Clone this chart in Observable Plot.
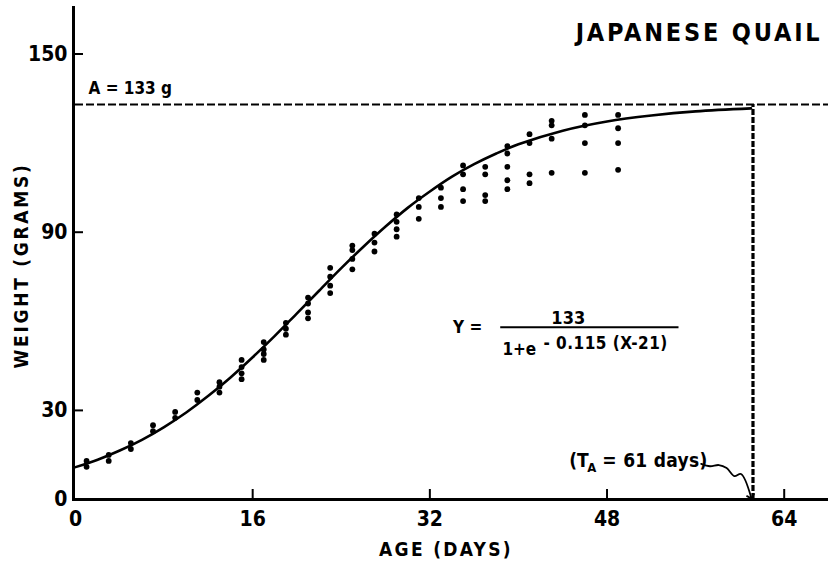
<!DOCTYPE html>
<html><head><meta charset="utf-8">
<script src="https://cdn.jsdelivr.net/npm/d3@7"></script>
<script src="https://cdn.jsdelivr.net/npm/@observablehq/plot@0.6"></script>
<style>
body{margin:0;background:#fff}
#chart svg{display:block}
</style></head><body><div id="chart"></div>
<script>
// Observed body weights (g) by age (days)
const ages = [1, 3, 5, 7, 9, 11, 13, 15, 17, 19, 21, 23, 25, 27, 29, 31, 33, 35, 37, 39, 41, 43, 46, 49];
const weights = [
  [13, 11], [15, 13], [19, 17], [25, 23], [29.5, 27.5], [36, 33.5],
  [39.5, 38, 36], [47, 44.6, 42.5, 40.5], [53, 50.5, 49, 47], [59.5, 57.5, 55.5],
  [68, 66, 63, 61], [78, 75, 72, 69.5], [85.5, 84, 81, 77.5], [89.5, 86.5, 83.5],
  [96, 93.5, 91, 88.5], [101.5, 98.5, 94.5], [105, 101.5, 98.5],
  [112.5, 109.5, 104.5, 100.5], [112, 109.5, 102.5, 100.5],
  [119, 116.5, 112, 107.5, 104.5], [123, 120, 109.5, 106.5],
  [127.5, 126, 121.5, 110], [129.5, 126, 120, 110], [129.5, 125, 120, 111]
];
// Fitted growth curve
const curveAges = [0, 2, 4, 6, 8, 10, 12, 14, 16, 18, 20, 22, 24, 26, 28, 30, 32, 34, 36, 38, 40, 44, 48, 52, 56, 61];
const curveWeights = [10.9, 13.4, 16.5, 20.1, 24.4, 29.3, 34.9, 41.1, 47.9, 55.1, 62.7, 70.3, 77.9, 85.1, 91.9, 98.2, 103.7, 108.7, 112.9, 116.5, 119.6, 124.2, 127.3, 129.3, 130.7, 131.7];
const asymptote = 133;
const timeToAsymptote = 61;
const xTicks = [0, 16, 32, 48, 64];
const yTicks = [0, 30, 90, 150];
const yTickMarks = [30, 90, 150];
const xTickMarks = [16, 32, 48, 64];
// squiggly pointer for the T_A annotation (data coordinates)
const pointerAges = [56.5, 57.3, 58.1, 58.8, 59.5, 60.1, 61.0];
const pointerWeights = [12.0, 11.2, 11.6, 10.6, 7.9, 8.6, 0.9];

const dots = ages.flatMap((a, i) => weights[i].map(w => ({age: a, weight: w})));
const curve = curveAges.map((a, i) => ({age: a, weight: curveWeights[i]}));
const pointer = pointerAges.map((a, i) => ({age: a, weight: pointerWeights[i]}));

const font = "'DejaVu Sans Condensed','DejaVu Sans',sans-serif";

const chart = Plot.plot({
  width: 828,
  height: 562,
  marginLeft: 75,
  marginRight: 0,
  marginTop: 6,
  marginBottom: 63,
  style: {fontFamily: font, background: "white", color: "black"},
  x: {domain: [0, 68], axis: null},
  y: {domain: [0, 166], axis: null},
  marks: [
    // axes lines
    Plot.ruleX([0], {stroke: "black", strokeWidth: 3, dx: -2, insetBottom: -1.5}),
    Plot.ruleY([0], {stroke: "black", strokeWidth: 3, insetLeft: -3}),
    // inward ticks
    Plot.ruleY(yTickMarks, {stroke: "black", strokeWidth: 2, insetRight: 745}),
    Plot.ruleX(xTickMarks, {stroke: "black", strokeWidth: 2, insetTop: 483}),
    // tick labels
    Plot.text(xTicks, {x: d => d, frameAnchor: "bottom", dy: 19.5, lineAnchor: "middle", fontSize: 21, fontWeight: "bold"}),
    Plot.text(yTicks, {y: d => d, frameAnchor: "left", dx: -8, textAnchor: "end", lineAnchor: "middle", fontSize: 21, fontWeight: "bold"}),
    // asymptote and time-to-asymptote
    Plot.ruleY([asymptote], {stroke: "black", strokeWidth: 2.2, strokeDasharray: "8,3"}),
    Plot.ruleX([timeToAsymptote], {y1: 0, y2: asymptote, dx: 2, stroke: "black", strokeWidth: 3.2, strokeDasharray: "6,2"}),
    // fitted curve
    Plot.line(curve, {x: "age", y: "weight", curve: "catmull-rom", stroke: "black", strokeWidth: 2.6}),
    // observations
    Plot.dot(dots, {x: "age", y: "weight", r: 2.9, fill: "black"}),
    // pointer
    Plot.line(pointer, {x: "age", y: "weight", curve: "catmull-rom", stroke: "black", strokeWidth: 1.8, markerEnd: "arrow"}),
    // texts
    Plot.text(["A = 133 g"], {x: 0, y: asymptote, dx: 13, dy: -11, textAnchor: "start", lineAnchor: "bottom", fontSize: 17, fontWeight: "bold"}),
    Plot.text(["JAPANESE QUAIL"], {frameAnchor: "top-right", dx: -6, dy: 34, textAnchor: "end", lineAnchor: "bottom", fontSize: 25, fontWeight: "bold"}),
    Plot.text(["AGE (DAYS)"], {frameAnchor: "bottom", dx: -6, dy: 56, textAnchor: "middle", lineAnchor: "bottom", fontSize: 19, fontWeight: "bold"}),
    Plot.text(["WEIGHT (GRAMS)"], {frameAnchor: "left", dx: -54, dy: 12.5, rotate: -90, textAnchor: "middle", lineAnchor: "middle", fontSize: 19, fontWeight: "bold"}),
    // equation
    Plot.text(["Y ="], {x: 34.1, y: 58, textAnchor: "start", lineAnchor: "middle", fontSize: 17, fontWeight: "bold"}),
    Plot.ruleY([58], {x1: 38.4, x2: 54.5, stroke: "black", strokeWidth: 2}),
    Plot.text(["133"], {x: 44.5, y: 58, dy: -3.5, lineAnchor: "bottom", fontSize: 18, fontWeight: "bold"}),
    Plot.text(["1+e"], {x: 38.55, y: 58, dy: 27.5, textAnchor: "start", lineAnchor: "bottom", fontSize: 17, fontWeight: "bold"}),
    Plot.text(["- 0.115 (X-21)"], {x: 38.55, y: 58, dx: 41, dy: 21.5, textAnchor: "start", lineAnchor: "bottom", fontSize: 17, fontWeight: "bold"}),
    // T_A annotation
    Plot.text(["(T"], {x: 44.86, y: 11.1, dx: -3, textAnchor: "start", lineAnchor: "bottom", fontSize: 19, fontWeight: "bold"}),
    Plot.text(["A"], {x: 44.86, y: 11.1, dx: 15, dy: 5, textAnchor: "start", lineAnchor: "bottom", fontSize: 13, fontWeight: "bold"}),
    Plot.text(["= 61 days)"], {x: 44.86, y: 11.1, dx: 30, textAnchor: "start", lineAnchor: "bottom", fontSize: 19, fontWeight: "bold"})
  ]
});

const spacing = {"JAPANESE QUAIL": 2.8, "AGE (DAYS)": 2.3, "WEIGHT (GRAMS)": 2.7, "- 0.115 (X-21)": 0.5, "= 61 days)": 0.3};
d3.select(chart).selectAll("text").each(function () {
  const s = spacing[this.textContent];
  if (s) this.setAttribute("letter-spacing", s);
});
document.getElementById("chart").appendChild(chart);
</script></body></html>
